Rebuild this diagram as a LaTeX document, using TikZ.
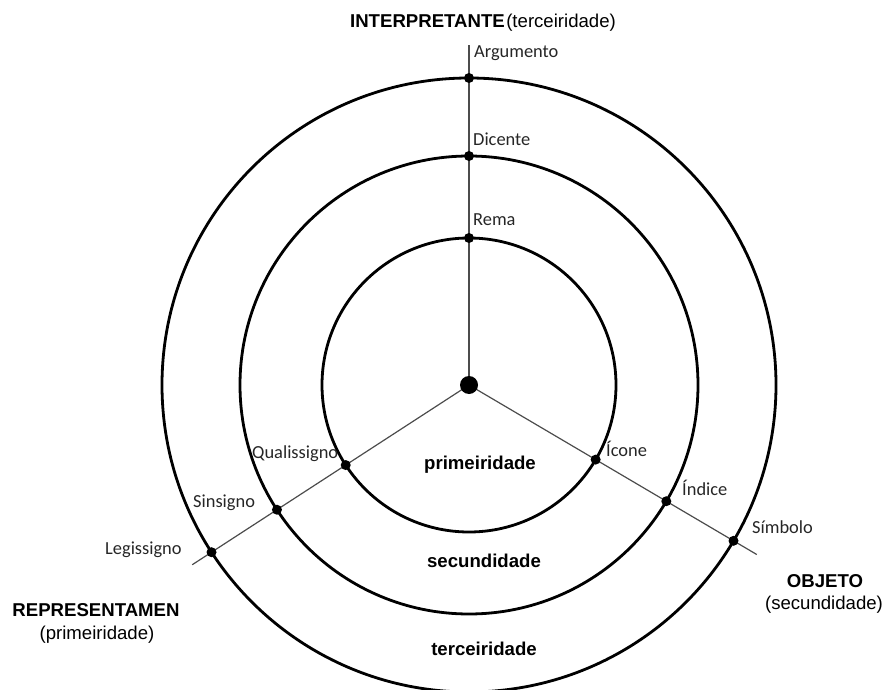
\documentclass[tikz,border=0pt]{standalone}
\usepackage{fontspec}
\setmainfont{Liberation Sans}
\newfontfamily\labfont{Carlito}
\usetikzlibrary{calc}
\begin{document}
\begin{tikzpicture}[x=1bp,y=-1bp,
  ring/.style={line width=2.8bp,black},
  ray/.style={line width=1.2bp,black!70},
  dot/.style={circle,fill=black,inner sep=0pt,minimum size=10bp},
  hub/.style={circle,fill=black,inner sep=0pt,minimum size=18bp},
  lab/.style={font=\labfont\fontsize{18.4bp}{20bp}\selectfont,text=black!85,inner sep=0pt,anchor=base west},
  cat/.style={font=\bfseries\fontsize{18.6bp}{20bp}\selectfont,inner sep=0pt,anchor=base},
  sub/.style={font=\fontsize{18.6bp}{20bp}\selectfont,inner sep=0pt,anchor=base}
]
\useasboundingbox (0,0) rectangle (885,690);

% centre and ray ends
\coordinate (c) at (469,385);
\coordinate (topEnd) at ($(c)+(270:340)$);
\coordinate (leftEnd) at ($(c)+(147:330)$);
\coordinate (rightEnd) at ($(c)+(30.5:334)$);

% three concentric rings
\draw[ring] (c) circle (147);
\draw[ring] (c) circle (229);
\draw[ring] (c) circle (307);

% three rays
\draw[ray] (c) -- (topEnd);
\draw[ray] (c) -- (leftEnd);
\draw[ray] (c) -- (rightEnd);

\node[hub] (hub) at (c) {};

% points where rays cross the rings
\node[dot] (rema) at ($(c)+(270:147)$) {};
\node[dot] (dicente) at ($(c)+(270:229)$) {};
\node[dot] (argumento) at ($(c)+(270:307)$) {};
\node[dot] (quali) at ($(c)+(147:147)$) {};
\node[dot] (sin) at ($(c)+(147:229)$) {};
\node[dot] (legi) at ($(c)+(147:307)$) {};
\node[dot] (icone) at ($(c)+(30.5:147)$) {};
\node[dot] (indice) at ($(c)+(30.5:229)$) {};
\node[dot] (simbolo) at ($(c)+(30.5:307)$) {};

% labels of the nine classes
\node[lab] (tArg) at (474,58) {Argumento};
\node[lab] (tDic) at (473,146) {Dicente};
\node[lab] (tRem) at (473,225) {Rema};
\node[lab] (tQua) at (252,458) {Qualissigno};
\node[lab] (tSin) at (193,507) {Sinsigno};
\node[lab] (tLeg) at (105,554) {Legissigno};
\node[lab] (tIco) at (606,456) {Ícone};
\node[lab] (tInd) at (682,495) {Índice};
\node[lab] (tSim) at (752,533) {Símbolo};

% ring names
\node[cat] (p1) at (480,469) {primeiridade};
\node[cat] (p2) at (484,567) {secundidade};
\node[cat] (p3) at (484,655) {terceiridade};

% trichotomy headings
\node[sub,anchor=base] (interp) at (483,28) {\textbf{INTERPRETANTE}\kern1.5bp(terceiridade)};
\node[cat] (repr) at (96,616) {REPRESENTAMEN};
\node[sub] (reprSub) at (97,639) {(primeiridade)};
\node[cat] (obj) at (825,587) {OBJETO};
\node[sub] (objSub) at (824,609) {(secundidade)};
\end{tikzpicture}
\end{document}
